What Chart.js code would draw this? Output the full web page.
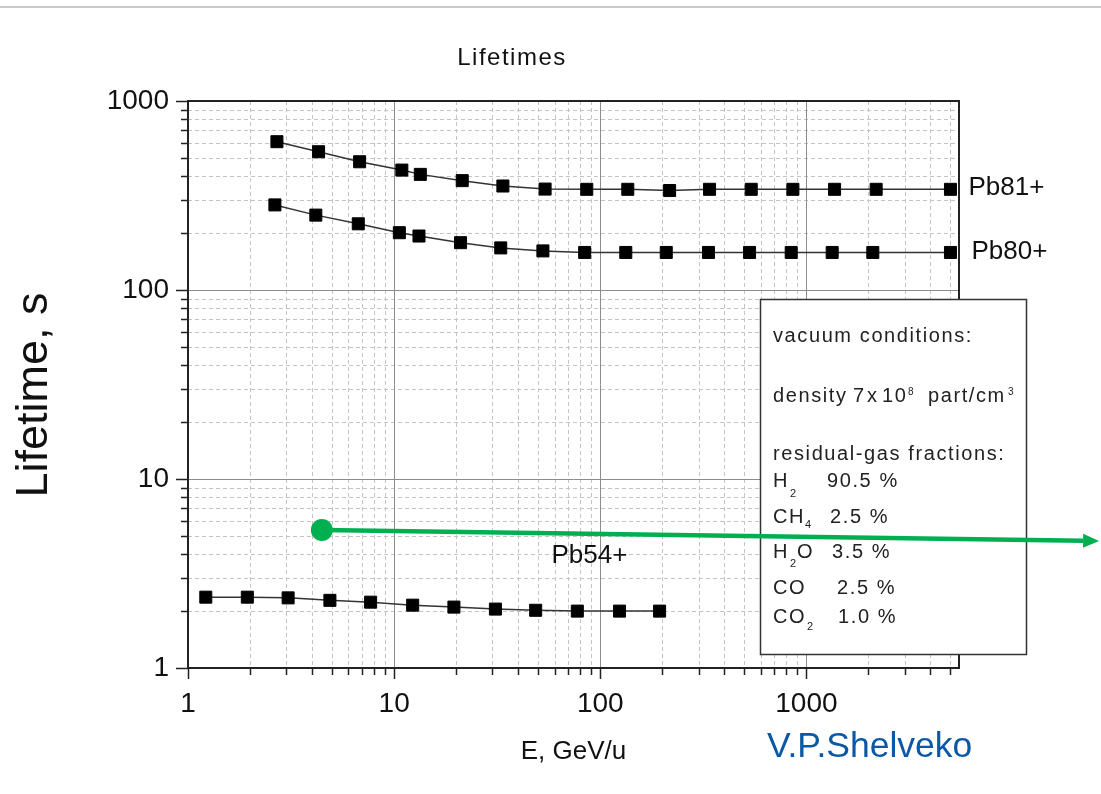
<!DOCTYPE html>
<html>
<head>
<meta charset="utf-8">
<title>Lifetimes</title>
<script src="https://cdn.jsdelivr.net/npm/chart.js@4.4.0/dist/chart.umd.min.js"></script>
<style>
  body { margin: 0; background: #fff; }
  .wrap { position: relative; width: 1101px; height: 794px; overflow: hidden; }
  .rule { position: absolute; left: 0; right: 0; top: 6px; height: 2px; background: #c9c9c9; }
  canvas { position: absolute; left: 0; top: 0; }
</style>
</head>
<body>
<div class="wrap">
  <div class="rule"></div>
  <canvas id="lifetimes" width="1101" height="794"></canvas>
</div>
<script>
// values (E in GeV/u, lifetime in s)
const energyPb81 = [2.7, 4.3, 6.8, 10.9, 13.4, 21.4, 33.7, 54, 86, 136, 217, 339, 540, 860, 1370, 2180, 5000];
const lifetimePb81 = [609, 539, 477, 431, 409, 379, 355, 342, 341, 341, 336, 341, 341, 341, 341, 341, 341];
const energyPb80 = [2.64, 4.17, 6.7, 10.6, 13.2, 21, 32.9, 52.7, 84, 133, 209, 335, 530, 844, 1334, 2100, 5000];
const lifetimePb80 = [282, 249, 224, 201, 193, 178, 167, 161, 158, 158, 158, 158, 158, 158, 158, 158, 158];
const energyPb54 = [1.22, 1.94, 3.06, 4.88, 7.69, 12.3, 19.5, 31, 48.6, 77.4, 124, 194];
const lifetimePb54 = [2.37, 2.37, 2.35, 2.28, 2.23, 2.15, 2.10, 2.05, 2.02, 2.0, 2.0, 2.0];
const seriesNames = ['Pb81+', 'Pb80+', 'Pb54+'];
const decadeLabels = [1, 10, 100, 1000];

// green arrow, in data units (start point, end point)
const arrowFrom = [4.46, 5.37];
const arrowTo = [26300, 4.7];
const pb54LabelAt = [58, 3.9];

// text of the "vacuum conditions" box: x, baseline y, text, font size
const noteRuns = [
  [773, 342, 'vacuum conditions:', 20],
  [773, 402, 'density', 20], [853, 402, '7', 20], [867, 402, 'x', 20], [882, 402, '10', 20],
  [908, 395, '8', 10], [928, 402, 'part/cm', 20], [1008, 395, '3', 10],
  [773, 460, 'residual-gas fractions:', 20],
  [773, 487, 'H', 20], [790, 497, '2', 11], [827, 487, '90.5 %', 20],
  [773, 523, 'CH', 20], [805, 528, '4', 11], [830, 523, '2.5 %', 20],
  [773, 558, 'H', 20], [790, 567, '2', 11], [797, 558, 'O', 20], [832, 558, '3.5 %', 20],
  [773, 594, 'CO', 20], [837, 594, '2.5 %', 20],
  [773, 623, 'CO', 20], [807, 630, '2', 11], [838, 623, '1.0 %', 20]
];

const FONT = '"Liberation Sans", Arial, Helvetica, sans-serif';
Chart.defaults.font.family = FONT;
Chart.defaults.color = '#111';

const pairs = (xs, ys) => xs.map((v, i) => ({ x: v, y: ys[i] }));
const isDecade = v => Math.abs(Math.log10(v) - Math.round(Math.log10(v))) < 1e-9;

// 1..9 per decade, used for grid and ticks
function logTicks(scale) {
  const ticks = [];
  for (let d = 1; d <= scale.max; d *= 10) {
    for (let k = 1; k < 10; k++) {
      const v = d * k;
      if (v >= scale.min && v <= scale.max) ticks.push({ value: v, major: k === 1 });
    }
  }
  scale.ticks = ticks;
}

const paper = {
  id: 'paper',
  beforeDatasetsDraw(chart) {
    const { ctx, chartArea: a, scales: { x, y } } = chart;
    ctx.save();
    const lines = (major) => {
      ctx.beginPath();
      x.ticks.forEach(t => {
        if (isDecade(t.value) !== major) return;
        const px = Math.round(x.getPixelForValue(t.value)) + 0.5;
        ctx.moveTo(px, a.top); ctx.lineTo(px, a.bottom);
      });
      y.ticks.forEach(t => {
        if (isDecade(t.value) !== major) return;
        const py = Math.round(y.getPixelForValue(t.value)) + 0.5;
        ctx.moveTo(a.left, py); ctx.lineTo(a.right, py);
      });
      ctx.stroke();
    };
    ctx.lineWidth = 1;
    ctx.setLineDash([4, 3]);
    ctx.strokeStyle = '#c4c4c4';
    lines(false);
    ctx.setLineDash([]);
    ctx.strokeStyle = '#8c8c8c';
    lines(true);

    // tick marks outside the frame
    ctx.strokeStyle = '#222';
    ctx.lineWidth = 1.5;
    ctx.beginPath();
    x.ticks.forEach(t => {
      const px = Math.round(x.getPixelForValue(t.value)) + 0.5;
      ctx.moveTo(px, a.bottom); ctx.lineTo(px, a.bottom + (isDecade(t.value) ? 11 : 7));
    });
    y.ticks.forEach(t => {
      const py = Math.round(y.getPixelForValue(t.value)) + 0.5;
      ctx.moveTo(a.left, py); ctx.lineTo(a.left - (isDecade(t.value) ? 12 : 7), py);
    });
    ctx.stroke();

    ctx.lineWidth = 2;
    ctx.strokeRect(a.left, a.top, a.width, a.height);
    ctx.restore();
  },
  afterDatasetsDraw(chart) {
    const { ctx, scales: { x, y } } = chart;
    ctx.save();
    ctx.fillStyle = '#111';
    ctx.font = '26px ' + FONT;
    ctx.textAlign = 'left';
    ctx.textBaseline = 'middle';
    // series labels next to the last point
    [0, 1].forEach(i => {
      const pts = chart.getDatasetMeta(i).data;
      const last = pts[pts.length - 1];
      ctx.fillText(seriesNames[i], last.x + 18 + i * 3, last.y - 1);
    });
    ctx.fillText(seriesNames[2], x.getPixelForValue(pb54LabelAt[0]), y.getPixelForValue(pb54LabelAt[1]));

    // vacuum conditions box
    ctx.fillStyle = '#fff';
    ctx.fillRect(760, 299, 267, 356);
    ctx.strokeStyle = '#333';
    ctx.lineWidth = 1.5;
    ctx.strokeRect(760.5, 299.5, 266, 355);
    ctx.fillStyle = '#222';
    ctx.textBaseline = 'alphabetic';
    noteRuns.forEach(([tx, ty, txt, size]) => {
      ctx.font = size + 'px ' + FONT;
      ctx.letterSpacing = size >= 20 ? '1.6px' : '0px';
      ctx.fillText(txt, tx, ty);
    });
    ctx.letterSpacing = '0px';

    // green arrow
    const x0 = x.getPixelForValue(arrowFrom[0]), y0 = y.getPixelForValue(arrowFrom[1]);
    const x1 = x.getPixelForValue(arrowTo[0]), y1 = y.getPixelForValue(arrowTo[1]);
    const ang = Math.atan2(y1 - y0, x1 - x0);
    const head = 16;
    ctx.strokeStyle = '#00b050';
    ctx.fillStyle = '#00b050';
    ctx.lineWidth = 4.5;
    ctx.beginPath();
    ctx.moveTo(x0, y0);
    ctx.lineTo(x1 - head * Math.cos(ang), y1 - head * Math.sin(ang));
    ctx.stroke();
    ctx.beginPath();
    ctx.arc(x0, y0, 11, 0, Math.PI * 2);
    ctx.fill();
    ctx.beginPath();
    ctx.moveTo(x1, y1);
    ctx.lineTo(x1 - head * Math.cos(ang) + 7 * Math.sin(ang), y1 - head * Math.sin(ang) - 7 * Math.cos(ang));
    ctx.lineTo(x1 - head * Math.cos(ang) - 7 * Math.sin(ang), y1 - head * Math.sin(ang) + 7 * Math.cos(ang));
    ctx.closePath();
    ctx.fill();
    ctx.restore();
  },
  afterDraw(chart) {
    const { ctx } = chart;
    ctx.save();
    ctx.fillStyle = '#111';
    ctx.textAlign = 'center';
    ctx.textBaseline = 'alphabetic';
    ctx.font = '24px ' + FONT;
    ctx.letterSpacing = '1.5px';
    ctx.fillText('Lifetimes', 512, 65);
    ctx.letterSpacing = '0px';

    ctx.font = '45px ' + FONT;
    ctx.translate(47, 395);
    ctx.rotate(-Math.PI / 2);
    ctx.fillText('Lifetime, s', 0, 0);
    ctx.restore();

    ctx.save();
    ctx.fillStyle = '#0a58a6';
    ctx.font = '35.5px ' + FONT;
    ctx.textAlign = 'left';
    ctx.fillText('V.P.Shelveko', 767, 757);
    ctx.restore();
  }
};

const lineStyle = {
  showLine: true,
  borderColor: '#333',
  borderWidth: 1.5,
  pointStyle: 'rect',
  pointRadius: 8.5,
  pointBorderWidth: 1,
  pointBackgroundColor: '#000',
  pointBorderColor: '#000',
  tension: 0
};

const config = {
  type: 'line',
  data: {
    datasets: [
      { label: seriesNames[0], data: pairs(energyPb81, lifetimePb81), ...lineStyle },
      { label: seriesNames[1], data: pairs(energyPb80, lifetimePb80), ...lineStyle },
      { label: seriesNames[2], data: pairs(energyPb54, lifetimePb54), ...lineStyle }
    ]
  },
  options: {
    responsive: false,
    animation: false,
    devicePixelRatio: 1,
    layout: { padding: { top: 101, right: 142, bottom: 0, left: 0 } },
    plugins: { legend: { display: false }, tooltip: { enabled: false }, title: { display: false } },
    scales: {
      x: {
        type: 'logarithmic',
        min: 1,
        max: 5500,
        afterBuildTicks: logTicks,
        afterFit: s => { s.height = 126; },
        grid: { display: false, drawTicks: false },
        border: { display: false },
        ticks: {
          autoSkip: false,
          maxRotation: 0,
          padding: 19,
          color: '#111',
          font: { size: 28 },
          callback: v => decadeLabels.includes(v) ? String(v) : ''
        },
        title: { display: true, text: 'E, GeV/u', color: '#111', font: { size: 26 }, padding: { top: 0, bottom: 27 } }
      },
      y: {
        type: 'logarithmic',
        min: 1,
        max: 1000,
        afterBuildTicks: logTicks,
        afterFit: s => { s.width = 188; },
        grid: { display: false, drawTicks: false },
        border: { display: false },
        ticks: {
          autoSkip: false,
          padding: 19,
          color: '#111',
          font: { size: 28 },
          callback: v => decadeLabels.includes(v) ? String(v) : ''
        }
      }
    }
  },
  plugins: [paper]
};

const lifetimeChart = new Chart(document.getElementById('lifetimes'), config);
</script>
</body>
</html>
